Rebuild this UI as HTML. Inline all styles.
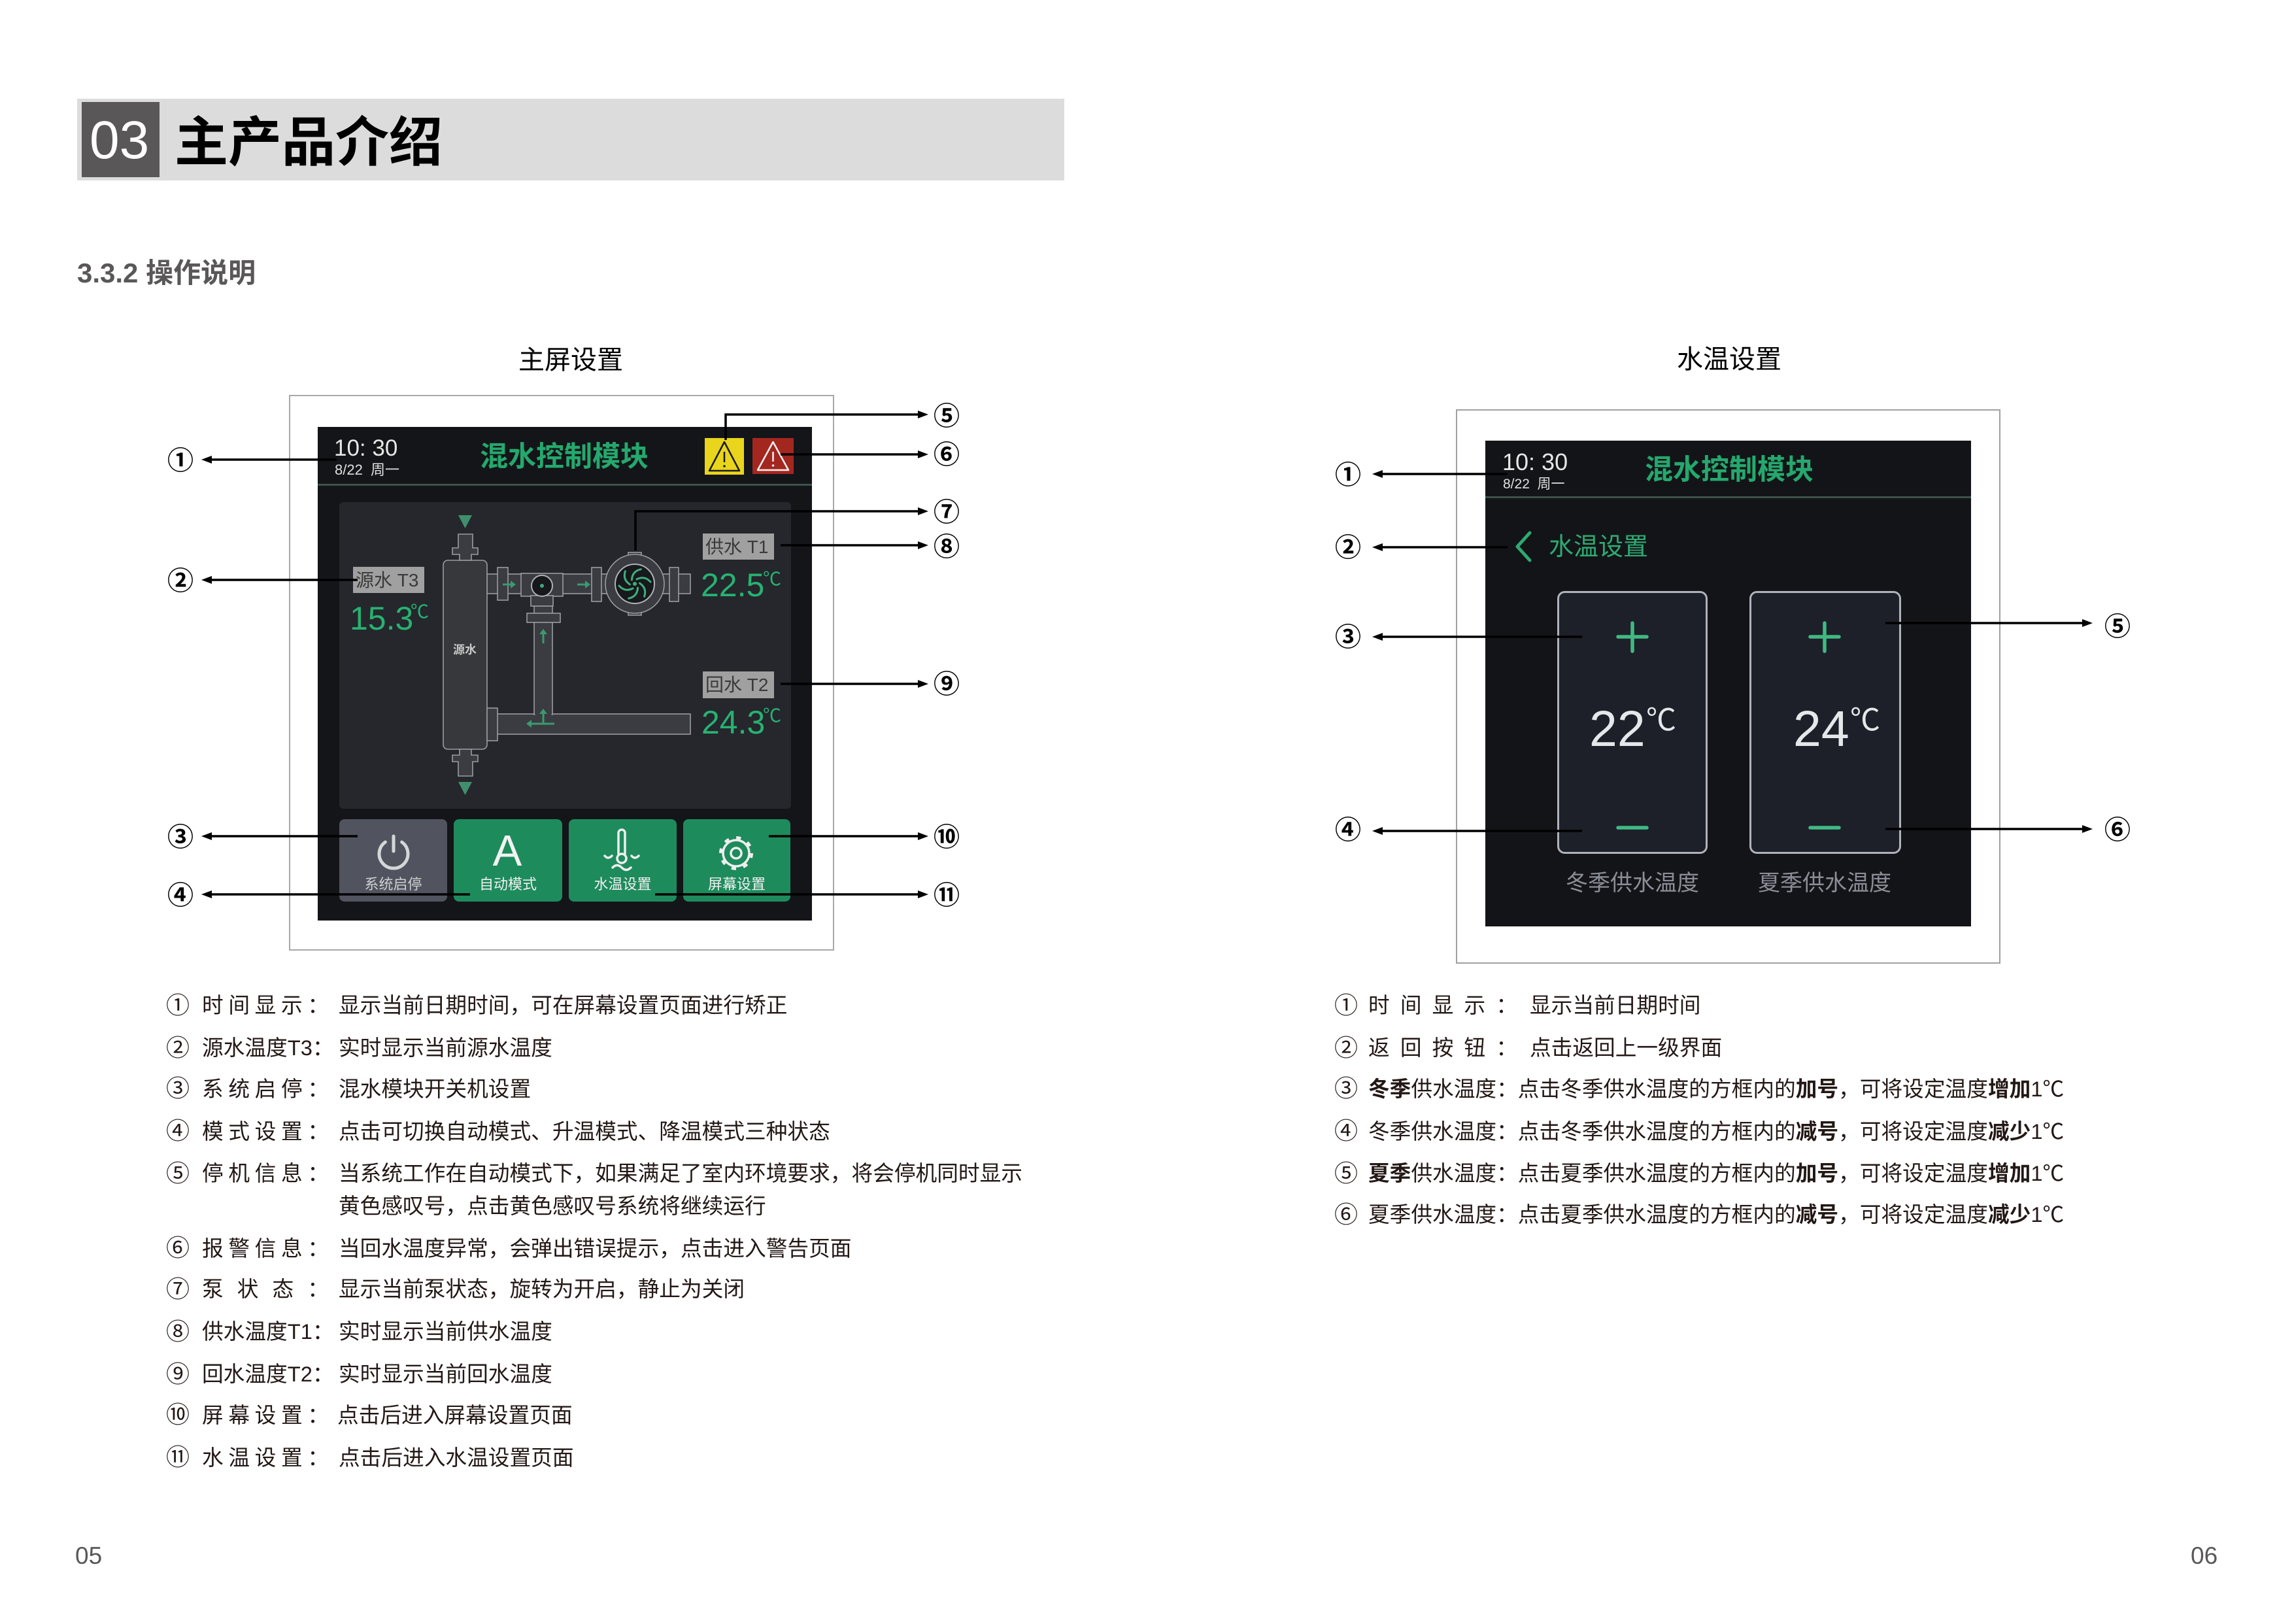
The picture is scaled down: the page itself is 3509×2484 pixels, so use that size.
<!DOCTYPE html>
<html><head><meta charset="utf-8">
<style>
html,body{margin:0;padding:0;background:#fff;}
body{width:3509px;height:2482px;position:relative;overflow:hidden;}
svg.bg{position:absolute;left:0;top:0;}
.t{position:absolute;white-space:nowrap;font-family:"Liberation Sans","Noto Sans CJK SC",sans-serif;line-height:1;}
.lst{font-size:32.7px;color:#231815;}
.ln{font-size:36px;color:#231815;}
.lab{display:flex;justify-content:space-between;}
.num{position:absolute;width:60px;text-align:center;font-family:"Noto Sans CJK SC","DejaVu Sans",sans-serif;font-size:40px;line-height:1;color:#000;font-weight:700;}
.btn{text-align:center;font-size:22px;}
.L{position:absolute;left:0;top:2px;width:3509px;height:2482px;}
</style></head><body>

<svg class="bg" width="3509" height="2482" viewBox="0 0 3509 2482" xmlns="http://www.w3.org/2000/svg">
  <!-- header -->
  <rect x="118" y="151" width="1510" height="125" fill="#dcdcdc"/>
  <rect x="125" y="156" width="119" height="115" fill="#595757"/>

  <!-- left frame & screen -->
  <rect x="443" y="605" width="832" height="848" fill="none" stroke="#a8a8a8" stroke-width="2"/>
  <rect x="486" y="653" width="756" height="755" fill="#141519"/>
  <rect x="486" y="740" width="756" height="3" fill="#3b5249"/>
  <!-- warning icons -->
  <rect x="1078" y="670" width="60" height="56" fill="#e8d51c"/>
  <path d="M1108,676 L1131,720 L1085,720 Z" fill="none" stroke="#1a1a1a" stroke-width="2.5" stroke-linejoin="round"/>
  <path d="M1108,691 V707" stroke="#1a1a1a" stroke-width="2.5"/>
  <circle cx="1108" cy="713" r="1.8" fill="#1a1a1a"/>
  <rect x="1151" y="670" width="63" height="55" fill="#a4271f"/>
  <path d="M1182.5,676 L1206,719 L1159,719 Z" fill="none" stroke="#f2f2f2" stroke-width="2.5" stroke-linejoin="round"/>
  <path d="M1182.5,691 V706" stroke="#f2f2f2" stroke-width="2.5"/>
  <circle cx="1182.5" cy="712" r="1.8" fill="#f2f2f2"/>

  <!-- panel -->
  <rect x="519" y="768" width="691" height="469" rx="6" fill="#25272c"/>

  <!-- diagram -->
  <g fill="#3a3c41" stroke="#9a9ca1" stroke-width="1.6">
    <rect x="745" y="1092" width="311" height="31"/>
    <rect x="817" y="927" width="28" height="166"/>
    <rect x="745" y="878" width="311" height="30"/>
    <rect x="806" y="938" width="51" height="14"/>
    <rect x="761" y="868" width="16" height="50"/>
    <rect x="797" y="877" width="64" height="35"/>
    <rect x="812" y="911" width="34" height="16"/>
    <rect x="905" y="868" width="15" height="52"/>
    <rect x="1024" y="868" width="14" height="52"/>
    <rect x="961" y="845" width="20" height="7"/>
    <rect x="961" y="934" width="20" height="7"/>
    <circle cx="971" cy="893" r="45"/>
    <rect x="678" y="857" width="67" height="289" rx="7" fill="#36383c"/>
    <rect x="745" y="1083" width="16" height="50"/>
    <path d="M701,817 H723 V838 H731 V848 H721 V857 H703 V848 H692 V838 H701 Z"/>
    <path d="M703,1146 H721 V1155 H731 V1165 H723 V1187 H701 V1165 H692 V1155 H703 Z"/>
  </g>
  <rect x="818.5" y="1089" width="25" height="6" fill="#3a3c41"/>
  <circle cx="829" cy="896" r="16" fill="#16181b" stroke="#b0b2b6" stroke-width="2"/>
  <circle cx="829" cy="896" r="3" fill="#3fa77a"/>
  <circle cx="971" cy="893" r="30" fill="#17191c" stroke="#b0b2b6" stroke-width="2"/>
  <g transform="translate(971,893)" fill="none" stroke="#3fae7e" stroke-width="3" stroke-linecap="round">
    <path d="M3,-7 Q15,-13 24,-3"/>
    <path d="M3,-7 Q15,-13 24,-3" transform="rotate(60)"/>
    <path d="M3,-7 Q15,-13 24,-3" transform="rotate(120)"/>
    <path d="M3,-7 Q15,-13 24,-3" transform="rotate(180)"/>
    <path d="M3,-7 Q15,-13 24,-3" transform="rotate(240)"/>
    <path d="M3,-7 Q15,-13 24,-3" transform="rotate(300)"/>
  </g>
  <circle cx="971" cy="893" r="3" fill="#3fae7e"/>
  <!-- green arrows -->
  <g fill="#3a9a70" stroke="#3a9a70" stroke-width="3">
    <path d="M769,894 H783"/><polygon points="789,894 781,888 781,900" stroke="none"/>
    <path d="M883,894 H897"/><polygon points="903,894 895,888 895,900" stroke="none"/>
    <path d="M831,984 V968"/><polygon points="831,962 825,970 837,970" stroke="none"/>
    <path d="M848,1107 H812"/><polygon points="805,1107 813,1101 813,1113" stroke="none"/>
    <path d="M831,1107 V1090"/><polygon points="831,1084 825,1092 837,1092" stroke="none"/>
  </g>
  <polygon points="701,788 722,788 711.5,808" fill="#3f8f6e"/>
  <polygon points="701,1196 722,1196 711.5,1216" fill="#3f8f6e"/>
  <!-- label boxes -->
  <rect x="540" y="867" width="109" height="40" fill="#a0a0a0"/>
  <rect x="1075" y="816" width="109" height="40" fill="#a0a0a0"/>
  <rect x="1075" y="1027" width="109" height="41" fill="#a0a0a0"/>

  <!-- buttons -->
  <rect x="519" y="1253" width="165" height="126" rx="8" fill="#51545e"/>
  <rect x="694" y="1253" width="166" height="126" rx="8" fill="#1e8b5d"/>
  <rect x="870" y="1253" width="165" height="126" rx="8" fill="#1e8b5d"/>
  <rect x="1045" y="1253" width="164" height="126" rx="8" fill="#1e8b5d"/>
  <path d="M614.6,1288 A22,22 0 1 1 589.4,1288" fill="none" stroke="#d5d6d8" stroke-width="5" stroke-linecap="round"/>
  <path d="M602,1279 V1302" stroke="#d5d6d8" stroke-width="5" stroke-linecap="round"/>
  <g fill="none" stroke="#eeeeee" stroke-width="3.5" stroke-linecap="round">
    <path d="M946,1306 V1274 a5,5 0 0 1 10,0 V1306"/>
    <circle cx="951" cy="1313" r="7"/>
    <path d="M925,1309 q5,6 11,0"/>
    <path d="M966,1309 q5,6 11,0"/>
    <path d="M937,1327 q7,-7 14,0 q7,7 14,0"/>
    <circle cx="1126" cy="1305" r="20"/>
    <circle cx="1126" cy="1305" r="8"/>
  </g>
  <circle cx="1126" cy="1305" r="23" fill="none" stroke="#eeeeee" stroke-width="6" stroke-dasharray="7 11.06"/>

  <!-- right frame & screen -->
  <rect x="2228" y="627" width="831" height="846" fill="none" stroke="#a0a0a0" stroke-width="2"/>
  <rect x="2272" y="674" width="743" height="743" fill="#131418"/>
  <rect x="2272" y="759" width="743" height="3" fill="#3b5249"/>
  <path d="M2340,815 L2321,836 L2340,857" fill="none" stroke="#2eaa72" stroke-width="5" stroke-linecap="round" stroke-linejoin="round"/>
  <rect x="2383.5" y="905.5" width="227" height="399" rx="10" fill="#1d2029" stroke="#b0b3bb" stroke-width="3"/>
  <rect x="2677.5" y="905.5" width="229" height="399" rx="10" fill="#1d2029" stroke="#b0b3bb" stroke-width="3"/>
  <g stroke="#3fb982" stroke-width="5.5" stroke-linecap="round">
    <path d="M2475,974 H2519 M2497,953 V996"/>
    <path d="M2769,974 H2813 M2791,953 V996"/>
    <path d="M2475,1266 H2519"/>
    <path d="M2769,1266 H2813"/>
  </g>

  <!-- annotation arrows -->
  <g stroke="#000" stroke-width="3.5" fill="none">
    <path d="M515,703 H322"/>
    <path d="M547,887 H322"/>
    <path d="M547,1279 H322"/>
    <path d="M719,1368 H322"/>
    <path d="M1110,673 V634 H1406"/>
    <path d="M1194,695 H1406"/>
    <path d="M972,842 V782 H1406"/>
    <path d="M1194,834 H1406"/>
    <path d="M1194,1046 H1406"/>
    <path d="M1176,1279 H1406"/>
    <path d="M1002,1368 H1406"/>
    <path d="M2306,725 H2113"/>
    <path d="M2306,837 H2113"/>
    <path d="M2420,974 H2113"/>
    <path d="M2420,1271 H2113"/>
    <path d="M2884,953 H3187"/>
    <path d="M2884,1268 H3187"/>
  </g>
  <g fill="#000">
    <polygon points="308,703 324,697 324,709"/>
    <polygon points="308,887 324,881 324,893"/>
    <polygon points="308,1279 324,1273 324,1285"/>
    <polygon points="308,1368 324,1362 324,1374"/>
    <polygon points="1420,634 1404,628 1404,640"/>
    <polygon points="1420,695 1404,689 1404,701"/>
    <polygon points="1420,782 1404,776 1404,788"/>
    <polygon points="1420,834 1404,828 1404,840"/>
    <polygon points="1420,1046 1404,1040 1404,1052"/>
    <polygon points="1420,1279 1404,1273 1404,1285"/>
    <polygon points="1420,1368 1404,1362 1404,1374"/>
    <polygon points="2099,725 2115,719 2115,731"/>
    <polygon points="2099,837 2115,831 2115,843"/>
    <polygon points="2099,974 2115,968 2115,980"/>
    <polygon points="2099,1271 2115,1265 2115,1277"/>
    <polygon points="3201,953 3185,947 3185,959"/>
    <polygon points="3201,1268 3185,1262 3185,1274"/>
  </g>
</svg>

<!-- header text -->
<div class="t" style="left:137px;top:173.6px;font-size:82px;color:#fff;">03</div>
<div class="t" style="left:267px;top:178.3px;font-size:82px;color:#000;font-weight:700;">主产品介绍</div>
<div class="t" style="left:118px;top:396.9px;font-size:42px;color:#595757;font-weight:700;">3.3.2 操作说明</div>
<div class="t" style="left:793px;top:531.3px;font-size:40px;color:#000;">主屏设置</div>
<div class="t" style="left:2565px;top:530.3px;font-size:40px;color:#000;">水温设置</div>

<!-- left screen text -->
<div class="t" style="left:511px;top:668.4px;font-size:35px;color:#e6e6e6;">10: 30</div>
<div class="t" style="left:512px;top:708.4px;font-size:22px;color:#e0e0e0;">8/22&nbsp;&nbsp;周一</div>
<div class="t" style="left:734px;top:677.9px;font-size:43px;color:#25a86d;font-weight:700;">混水控制模块</div>
<div class="t" style="left:544px;top:873.9px;font-size:28px;color:#3a3a3a;">源水 T3</div>
<div class="t" style="left:1079px;top:822.9px;font-size:28px;color:#3a3a3a;">供水 T1</div>
<div class="t" style="left:1079px;top:1034.4px;font-size:28px;color:#3a3a3a;">回水 T2</div>
<div class="t" style="left:535px;top:920.7px;font-size:50px;color:#27b272;">15.3</div>
<div class="t" style="left:628px;top:922px;font-size:28px;color:#27b272;">℃</div>
<div class="t" style="left:1072px;top:869.7px;font-size:50px;color:#27b272;">22.5</div>
<div class="t" style="left:1167px;top:872px;font-size:28px;color:#27b272;">℃</div>
<div class="t" style="left:1073px;top:1079.7px;font-size:50px;color:#27b272;">24.3</div>
<div class="t" style="left:1167px;top:1081px;font-size:28px;color:#27b272;">℃</div>
<div class="t" style="left:681px;top:984.6px;width:60px;text-align:center;font-size:18px;font-weight:700;color:#c8c8c8;">源水</div>
<div class="t" style="left:753px;top:1268.3px;width:46px;text-align:center;font-size:67px;color:#f2f2f2;">A</div>
<div class="t btn" style="left:519px;top:1341.8px;width:165px;color:#cfd0d3;">系统启停</div>
<div class="t btn" style="left:694px;top:1341.8px;width:166px;color:#f0f0f0;">自动模式</div>
<div class="t btn" style="left:870px;top:1341.8px;width:165px;color:#f0f0f0;">水温设置</div>
<div class="t btn" style="left:1045px;top:1341.8px;width:164px;color:#f0f0f0;">屏幕设置</div>

<!-- left annotation numbers -->
<div class="num" style="left:246px;top:680.9px;">①</div>
<div class="num" style="left:246px;top:864.9px;">②</div>
<div class="num" style="left:246px;top:1256.9px;">③</div>
<div class="num" style="left:246px;top:1345.9px;">④</div>
<div class="num" style="left:1418px;top:612.9px;">⑤</div>
<div class="num" style="left:1418px;top:671.9px;">⑥</div>
<div class="num" style="left:1418px;top:759.9px;">⑦</div>
<div class="num" style="left:1418px;top:812.9px;">⑧</div>
<div class="num" style="left:1418px;top:1022.9px;">⑨</div>
<div class="num" style="left:1418px;top:1256.9px;">⑩</div>
<div class="num" style="left:1418px;top:1345.9px;">⑪</div>

<!-- right screen text -->
<div class="t" style="left:2298px;top:688.5px;font-size:36px;color:#e6e6e6;">10: 30</div>
<div class="t" style="left:2299px;top:730.2px;font-size:21px;color:#e0e0e0;">8/22&nbsp;&nbsp;周一</div>
<div class="t" style="left:2516px;top:698.4px;font-size:43px;color:#25a86d;font-weight:700;">混水控制模块</div>
<div class="t" style="left:2369px;top:817.7px;font-size:38px;color:#2eaa72;">水温设置</div>
<div class="t" style="left:2431px;top:1076.8px;font-size:77px;color:#e4e8ea;">22</div>
<div class="t" style="left:2518px;top:1077.6px;font-size:46px;color:#e4e8ea;">℃</div>
<div class="t" style="left:2743px;top:1076.8px;font-size:77px;color:#e4e8ea;">24</div>
<div class="t" style="left:2830px;top:1077.6px;font-size:46px;color:#e4e8ea;">℃</div>
<div class="t" style="left:2395px;top:1334.1px;font-size:34px;color:#8b8e96;">冬季供水温度</div>
<div class="t" style="left:2689px;top:1334.1px;font-size:34px;color:#8b8e96;">夏季供水温度</div>

<div class="num" style="left:2032px;top:702.9px;">①</div>
<div class="num" style="left:2032px;top:813.9px;">②</div>
<div class="num" style="left:2032px;top:950.9px;">③</div>
<div class="num" style="left:2032px;top:1245.9px;">④</div>
<div class="num" style="left:3209px;top:934.5px;">⑤</div>
<div class="num" style="left:3209px;top:1245.9px;">⑥</div>

<!-- lists (shifted down 2px) -->
<div class="L">
<div class="t ln" style="left:254px;top:1517.5px;">①</div>
<div class="t lst lab" style="left:309px;top:1520px;width:194px;"><span>时</span><span>间</span><span>显</span><span>示</span><span>：</span></div>
<div class="t lst" style="left:518px;top:1520px;">显示当前日期时间，可在屏幕设置页面进行矫正</div>

<div class="t ln" style="left:254px;top:1582.5px;">②</div>
<div class="t lst" style="left:309px;top:1585px;">源水温度T3：</div>
<div class="t lst" style="left:518px;top:1585px;">实时显示当前源水温度</div>

<div class="t ln" style="left:254px;top:1645.1px;">③</div>
<div class="t lst lab" style="left:309px;top:1647.6px;width:194px;"><span>系</span><span>统</span><span>启</span><span>停</span><span>：</span></div>
<div class="t lst" style="left:518px;top:1647.6px;">混水模块开关机设置</div>

<div class="t ln" style="left:254px;top:1710px;">④</div>
<div class="t lst lab" style="left:309px;top:1712.5px;width:194px;"><span>模</span><span>式</span><span>设</span><span>置</span><span>：</span></div>
<div class="t lst" style="left:518px;top:1712.5px;">点击可切换自动模式、升温模式、降温模式三种状态</div>

<div class="t ln" style="left:254px;top:1774.9px;">⑤</div>
<div class="t lst lab" style="left:309px;top:1777.4px;width:194px;"><span>停</span><span>机</span><span>信</span><span>息</span><span>：</span></div>
<div class="t lst" style="left:518px;top:1777.4px;">当系统工作在自动模式下，如果满足了室内环境要求，将会停机同时显示</div>
<div class="t lst" style="left:518px;top:1826.7px;">黄色感叹号，点击黄色感叹号系统将继续运行</div>

<div class="t ln" style="left:254px;top:1889.1px;">⑥</div>
<div class="t lst lab" style="left:309px;top:1891.6px;width:194px;"><span>报</span><span>警</span><span>信</span><span>息</span><span>：</span></div>
<div class="t lst" style="left:518px;top:1891.6px;">当回水温度异常，会弹出错误提示，点击进入警告页面</div>

<div class="t ln" style="left:254px;top:1951.7px;">⑦</div>
<div class="t lst lab" style="left:309px;top:1954.2px;width:194px;"><span>泵</span><span>状</span><span>态</span><span>：</span></div>
<div class="t lst" style="left:518px;top:1954.2px;">显示当前泵状态，旋转为开启，静止为关闭</div>

<div class="t ln" style="left:254px;top:2016.6px;">⑧</div>
<div class="t lst" style="left:309px;top:2019.1px;">供水温度T1：</div>
<div class="t lst" style="left:518px;top:2019.1px;">实时显示当前供水温度</div>

<div class="t ln" style="left:254px;top:2081.5px;">⑨</div>
<div class="t lst" style="left:309px;top:2084px;">回水温度T2：</div>
<div class="t lst" style="left:518px;top:2084px;">实时显示当前回水温度</div>

<div class="t ln" style="left:254px;top:2144.2px;">⑩</div>
<div class="t lst lab" style="left:309px;top:2146.7px;width:194px;"><span>屏</span><span>幕</span><span>设</span><span>置</span><span>：</span></div>
<div class="t lst" style="left:516px;top:2146.7px;">点击后进入屏幕设置页面</div>

<div class="t ln" style="left:254px;top:2209.1px;">⑪</div>
<div class="t lst lab" style="left:309px;top:2211.6px;width:194px;"><span>水</span><span>温</span><span>设</span><span>置</span><span>：</span></div>
<div class="t lst" style="left:518px;top:2211.6px;">点击后进入水温设置页面</div>

<div class="t ln" style="left:2041px;top:1517.6px;">①</div>
<div class="t lst lab" style="left:2093px;top:1520.1px;width:228px;"><span>时</span><span>间</span><span>显</span><span>示</span><span>：</span></div>
<div class="t lst" style="left:2340px;top:1520.1px;">显示当前日期时间</div>

<div class="t ln" style="left:2041px;top:1582.5px;">②</div>
<div class="t lst lab" style="left:2093px;top:1585px;width:228px;"><span>返</span><span>回</span><span>按</span><span>钮</span><span>：</span></div>
<div class="t lst" style="left:2340px;top:1585px;">点击返回上一级界面</div>

<div class="t ln" style="left:2041px;top:1645.1px;">③</div>
<div class="t lst" style="left:2093px;top:1647.6px;"><b>冬季</b>供水温度：点击冬季供水温度的方框内的<b>加号</b>，可将设定温度<b>增加</b>1℃</div>

<div class="t ln" style="left:2041px;top:1710px;">④</div>
<div class="t lst" style="left:2093px;top:1712.5px;">冬季供水温度：点击冬季供水温度的方框内的<b>减号</b>，可将设定温度<b>减少</b>1℃</div>

<div class="t ln" style="left:2041px;top:1774.9px;">⑤</div>
<div class="t lst" style="left:2093px;top:1777.4px;"><b>夏季</b>供水温度：点击夏季供水温度的方框内的<b>加号</b>，可将设定温度<b>增加</b>1℃</div>

<div class="t ln" style="left:2041px;top:1837.6px;">⑥</div>
<div class="t lst" style="left:2093px;top:1840.1px;">夏季供水温度：点击夏季供水温度的方框内的<b>减号</b>，可将设定温度<b>减少</b>1℃</div>
</div>

<!-- page numbers -->
<div class="t" style="left:115px;top:2360.7px;font-size:37px;color:#595757;">05</div>
<div class="t" style="left:3351px;top:2360.7px;font-size:37px;color:#595757;">06</div>

</body></html>
